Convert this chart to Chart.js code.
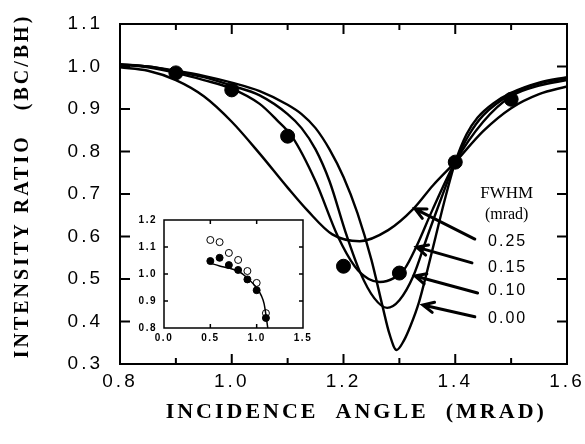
<!DOCTYPE html>
<html>
<head>
<meta charset="utf-8">
<script src="https://cdn.jsdelivr.net/npm/chart.js@4/dist/chart.umd.min.js"></script>
<style>
  html, body { margin: 0; padding: 0; background: #fff; }
  #wrap { position: relative; width: 585px; height: 444px; }
  #main { position: absolute; left: 0; top: 0; }
  #inset { position: absolute; left: 128px; top: 212px; }
</style>
</head>
<body>
<div id="wrap">
  <canvas id="main" width="585" height="444"></canvas>
  <canvas id="inset" width="185" height="136"></canvas>
</div>
<script>
// calculated curves, one per FWHM (mrad)
const angle000 = [0.80, 0.85, 0.90, 0.95, 1.00, 1.05, 1.10, 1.125, 1.15, 1.175, 1.20, 1.225, 1.25, 1.27, 1.282, 1.295, 1.308, 1.32, 1.335, 1.35, 1.365, 1.38, 1.40, 1.42, 1.44, 1.47, 1.50, 1.55, 1.60];
const ratio000 = [1.005, 1.000, 0.990, 0.978, 0.962, 0.942, 0.910, 0.888, 0.855, 0.805, 0.740, 0.655, 0.545, 0.435, 0.372, 0.333, 0.355, 0.390, 0.445, 0.520, 0.600, 0.680, 0.775, 0.840, 0.880, 0.915, 0.938, 0.962, 0.975];

const angle010 = [0.80, 0.85, 0.90, 0.95, 1.00, 1.05, 1.10, 1.125, 1.15, 1.175, 1.205, 1.23, 1.255, 1.278, 1.30, 1.325, 1.35, 1.375, 1.40, 1.425, 1.45, 1.50, 1.55, 1.60];
const ratio010 = [1.005, 1.000, 0.988, 0.975, 0.955, 0.932, 0.888, 0.855, 0.805, 0.730, 0.605, 0.515, 0.455, 0.432, 0.450, 0.507, 0.600, 0.690, 0.775, 0.840, 0.885, 0.935, 0.960, 0.972];

const angle015 = [0.80, 0.85, 0.90, 0.95, 1.00, 1.05, 1.08, 1.108, 1.15, 1.19, 1.22, 1.245, 1.265, 1.29, 1.31, 1.33, 1.36, 1.40, 1.45, 1.50, 1.55, 1.60];
const ratio015 = [1.005, 0.998, 0.985, 0.968, 0.948, 0.912, 0.875, 0.835, 0.730, 0.600, 0.530, 0.500, 0.493, 0.502, 0.525, 0.575, 0.665, 0.775, 0.870, 0.930, 0.955, 0.968];

const angle025 = [0.80, 0.85, 0.90, 0.95, 1.00, 1.05, 1.10, 1.135, 1.18, 1.229, 1.28, 1.325, 1.36, 1.40, 1.45, 1.50, 1.55, 1.60];
const ratio025 = [0.998, 0.990, 0.968, 0.930, 0.870, 0.795, 0.715, 0.662, 0.605, 0.589, 0.615, 0.665, 0.720, 0.775, 0.848, 0.902, 0.935, 0.953];

// measured points
const measAngle = [0.9, 1.0, 1.1, 1.2, 1.3, 1.4, 1.5];
const measRatio = [0.985, 0.945, 0.836, 0.530, 0.514, 0.775, 0.923];

// inset
const insetAngle = [0.5, 0.6, 0.7, 0.8, 0.9, 1.0, 1.1];
const insetOpen = [1.126, 1.118, 1.078, 1.052, 1.011, 0.967, 0.855];
const insetFilled = [1.048, 1.060, 1.033, 1.015, 0.980, 0.940, 0.837];
const insetLineX = [0.5, 0.6, 0.7, 0.8, 0.9, 1.0, 1.05, 1.08, 1.1, 1.12];
const insetLineY = [1.040, 1.030, 1.022, 1.011, 0.985, 0.948, 0.920, 0.890, 0.848, 0.800];

// tick labels
const xTickLabels = [0.8, 1.0, 1.2, 1.4, 1.6];
const xMinorTicks = [0.9, 1.1, 1.3, 1.5];
const yTickLabels = [0.3, 0.4, 0.5, 0.6, 0.7, 0.8, 0.9, 1.0, 1.1];
const insetXTicks = [0.0, 0.5, 1.0, 1.5];
const insetYTicks = [0.8, 0.9, 1.0, 1.1, 1.2];

const fwhmLabels = ['0.25', '0.15', '0.10', '0.00'];

// where the FWHM notes and arrows sit (data units)
const noteX = 1.492;
const noteY = [0.587, 0.528, 0.472, 0.408];
const arrowTail = [[1.435, 0.594], [1.430, 0.538], [1.440, 0.467], [1.435, 0.411]];
const arrowHead = [[1.328, 0.665], [1.331, 0.575], [1.328, 0.507], [1.342, 0.439]];

const pts = (xs, ys) => xs.map((v, i) => ({ x: v, y: ys[i] }));

function curve(xs, ys) {
  return {
    data: pts(xs, ys),
    showLine: true,
    pointRadius: 0,
    borderColor: '#000',
    borderWidth: 2.4,
    cubicInterpolationMode: 'monotone'
  };
}

// box with inward ticks on all four sides
function frameTicks(o) {
  return {
    id: 'frameTicks',
    beforeDraw(chart) { chart.ctx.letterSpacing = o.spacing; },
    beforeDatasetsDraw(chart) { chart.ctx.letterSpacing = '0px'; },
    afterDatasetsDraw(chart) {
      const { ctx, chartArea: a, scales: { x, y } } = chart;
      ctx.save();
      ctx.strokeStyle = '#000';
      ctx.lineWidth = o.width;
      ctx.strokeRect(a.left, a.top, a.right - a.left, a.bottom - a.top);
      ctx.beginPath();
      const xt = (list, len) => list.forEach(v => {
        const p = x.getPixelForValue(v);
        ctx.moveTo(p, a.bottom); ctx.lineTo(p, a.bottom - len);
        ctx.moveTo(p, a.top); ctx.lineTo(p, a.top + len);
      });
      const yt = (list, len) => list.forEach(v => {
        const p = y.getPixelForValue(v);
        ctx.moveTo(a.left, p); ctx.lineTo(a.left + len, p);
        ctx.moveTo(a.right, p); ctx.lineTo(a.right - len, p);
      });
      xt(o.xMajor, o.major);
      xt(o.xMinor, o.minor);
      yt(o.yMajor, o.major);
      ctx.stroke();
      ctx.restore();
    }
  };
}

const fwhmNotes = {
  id: 'fwhmNotes',
  afterDraw(chart) {
    const { ctx, scales: { x, y } } = chart;
    ctx.save();
    ctx.fillStyle = '#000';
    ctx.strokeStyle = '#000';
    ctx.textAlign = 'center';
    ctx.textBaseline = 'middle';
    ctx.letterSpacing = '0px';
    const cx = x.getPixelForValue(noteX);
    ctx.font = '17px "Liberation Serif"';
    ctx.fillText('FWHM', cx, y.getPixelForValue(0.702));
    ctx.font = '16px "Liberation Serif"';
    ctx.fillText('(mrad)', cx, y.getPixelForValue(0.651));
    ctx.letterSpacing = '2px';
    ctx.font = '16px "Liberation Sans"';
    fwhmLabels.forEach((t, i) => ctx.fillText(t, cx + 1, y.getPixelForValue(noteY[i])));
    ctx.lineWidth = 3;
    ctx.lineCap = 'round';
    arrowTail.forEach((t, i) => {
      const tx = x.getPixelForValue(t[0]), ty = y.getPixelForValue(t[1]);
      const hx = x.getPixelForValue(arrowHead[i][0]), hy = y.getPixelForValue(arrowHead[i][1]);
      const ang = Math.atan2(ty - hy, tx - hx);
      ctx.beginPath();
      ctx.moveTo(tx, ty); ctx.lineTo(hx, hy);
      ctx.moveTo(hx + 12 * Math.cos(ang - 0.45), hy + 12 * Math.sin(ang - 0.45));
      ctx.lineTo(hx, hy);
      ctx.lineTo(hx + 12 * Math.cos(ang + 0.45), hy + 12 * Math.sin(ang + 0.45));
      ctx.stroke();
    });
    ctx.restore();
  }
};

new Chart(document.getElementById('main'), {
  type: 'scatter',
  data: {
    datasets: [
      curve(angle000, ratio000),
      curve(angle010, ratio010),
      curve(angle015, ratio015),
      curve(angle025, ratio025),
      {
        data: pts(measAngle, measRatio),
        pointRadius: 7,
        backgroundColor: '#000',
        borderColor: '#000'
      }
    ]
  },
  options: {
    responsive: false,
    animation: false,
    layout: { padding: { top: 24, right: 18, left: 0, bottom: 0 } },
    plugins: { legend: { display: false }, tooltip: { enabled: false } },
    scales: {
      x: {
        type: 'linear', min: 0.8, max: 1.6,
        afterBuildTicks: s => { s.ticks = xTickLabels.map(v => ({ value: v })); },
        afterFit: s => { s.height = 80; s.paddingLeft = 0; s.paddingRight = 0; },
        grid: { display: false, drawTicks: false },
        border: { display: false },
        ticks: {
          padding: 6, color: '#000',
          font: { family: '"Liberation Sans", Arial', size: 19 },
          callback: v => v.toFixed(1)
        },
        title: {
          display: true, text: '   INCIDENCE  ANGLE  (MRAD)', color: '#000',
          font: { family: '"Liberation Serif"', size: 22, weight: 'bold' },
          padding: { top: 0, bottom: 18 }
        }
      },
      y: {
        type: 'linear', min: 0.3, max: 1.1,
        afterBuildTicks: s => { s.ticks = yTickLabels.map(v => ({ value: v })); },
        afterFit: s => { s.width = 120; s.paddingTop = 0; s.paddingBottom = 0; },
        grid: { display: false, drawTicks: false },
        border: { display: false },
        ticks: {
          padding: 17, color: '#000',
          font: { family: '"Liberation Sans", Arial', size: 19 },
          callback: v => v.toFixed(1)
        },
        title: {
          display: true, text: '  INTENSITY RATIO   (BC/BH)', color: '#000',
          font: { family: '"Liberation Serif"', size: 20, weight: 'bold' },
          padding: { top: 11, bottom: 0 }
        }
      }
    }
  },
  plugins: [frameTicks({
    spacing: '3px', width: 2, major: 10, minor: 6,
    xMajor: [1.0, 1.2, 1.4], xMinor: xMinorTicks,
    yMajor: yTickLabels.slice(1, -1)
  }), fwhmNotes]
});

new Chart(document.getElementById('inset'), {
  type: 'scatter',
  data: {
    datasets: [
      {
        data: pts(insetLineX, insetLineY),
        showLine: true, pointRadius: 0,
        borderColor: '#000', borderWidth: 1.5,
        cubicInterpolationMode: 'monotone'
      },
      {
        data: pts(insetAngle, insetFilled),
        pointRadius: 3.5, backgroundColor: '#000', borderColor: '#000'
      },
      {
        data: pts(insetAngle, insetOpen),
        pointRadius: 3.5, backgroundColor: '#fff', borderColor: '#000', borderWidth: 1
      }
    ]
  },
  options: {
    responsive: false,
    animation: false,
    layout: { padding: { top: 8, right: 10, left: 0, bottom: 0 } },
    plugins: { legend: { display: false }, tooltip: { enabled: false } },
    scales: {
      x: {
        type: 'linear', min: 0, max: 1.5,
        afterBuildTicks: s => { s.ticks = insetXTicks.map(v => ({ value: v })); },
        afterFit: s => { s.height = 20; s.paddingLeft = 0; s.paddingRight = 0; },
        grid: { display: false, drawTicks: false },
        border: { display: false },
        ticks: {
          padding: 4, color: '#000',
          font: { family: '"Liberation Sans", Arial', size: 10, weight: 'bold' },
          callback: v => v.toFixed(1)
        }
      },
      y: {
        type: 'linear', min: 0.8, max: 1.2,
        afterBuildTicks: s => { s.ticks = insetYTicks.map(v => ({ value: v })); },
        afterFit: s => { s.width = 36; s.paddingTop = 0; s.paddingBottom = 0; },
        grid: { display: false, drawTicks: false },
        border: { display: false },
        ticks: {
          padding: 7, color: '#000',
          font: { family: '"Liberation Sans", Arial', size: 10, weight: 'bold' },
          callback: v => v.toFixed(1)
        }
      }
    }
  },
  plugins: [frameTicks({
    spacing: '1.5px', width: 1.5, major: 4, minor: 4,
    xMajor: [0.5, 1.0], xMinor: [],
    yMajor: [0.9, 1.0, 1.1]
  })]
});
</script>
</body>
</html>
